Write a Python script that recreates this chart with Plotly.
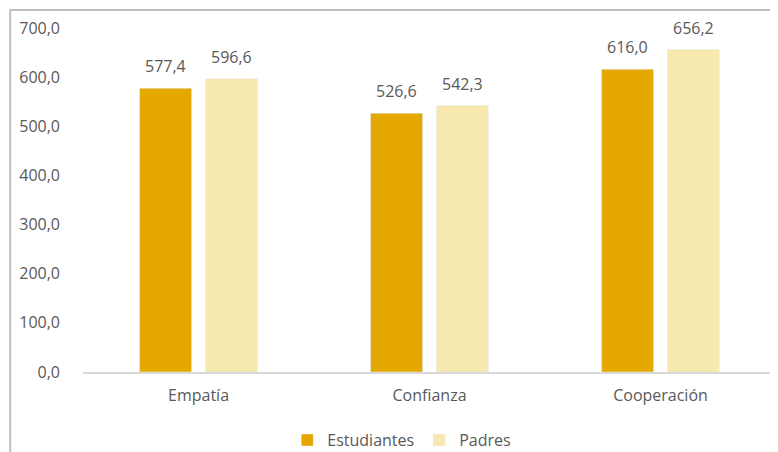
import plotly.graph_objects as go

categories = ["Empatía", "Confianza", "Cooperación"]
estudiantes = [577.4, 526.6, 616.0]
padres = [596.6, 542.3, 656.2]

text_color = "#595959"
font_family = "Open Sans, Liberation Sans, sans-serif"
bargap = 0.43
bargroupgap = 0.21

fig = go.Figure()
fig.add_trace(go.Bar(x=categories, y=estudiantes, name="Estudiantes",
                     marker_color="#E5A800"))
fig.add_trace(go.Bar(x=categories, y=padres, name="Padres",
                     marker_color="#F7E8AE"))

# value labels above the bars (offset to each bar of the group)
slot = (1 - bargap) / 2
for k, series in enumerate([estudiantes, padres]):
    for i, v in enumerate(series):
        fig.add_annotation(x=i + (k - 0.5) * slot, y=v, xref="x", yref="y",
                           text=f"{v:.1f}".replace(".", ","), showarrow=False,
                           yanchor="bottom", yshift=9,
                           font=dict(size=16, color=text_color))

# chart border (top and left visible, rest cropped off)
fig.add_shape(type="rect", xref="paper", yref="paper",
              x0=-0.105, x1=1.2, y0=-0.4, y1=1.052,
              line=dict(color="#BFBFBF", width=2), layer="below")

# page has an 8px body margin, so the figure is a bit smaller than the window
fig.update_layout(
    width=770, height=444,
    margin=dict(l=75, r=2, t=20, b=80, autoexpand=False),
    paper_bgcolor="white", plot_bgcolor="white",
    separators=",.",
    barmode="group", bargap=bargap, bargroupgap=bargroupgap,
    font=dict(family=font_family, size=16, color=text_color),
    showlegend=True,
    legend=dict(orientation="h", x=0.46, xanchor="center", y=-0.198,
                yanchor="middle", font=dict(size=16, color=text_color),
                itemwidth=30),
    xaxis=dict(showline=True, linecolor="#D9D9D9", linewidth=2,
               ticks="", showgrid=False, automargin=False,
               ticklabelstandoff=8),
    yaxis=dict(range=[0, 700], dtick=100, tickformat=".1f", showgrid=False,
               zeroline=False, showline=False, ticks="", automargin=False,
               ticklabelstandoff=22),
)

fig.write_html("out.html")
